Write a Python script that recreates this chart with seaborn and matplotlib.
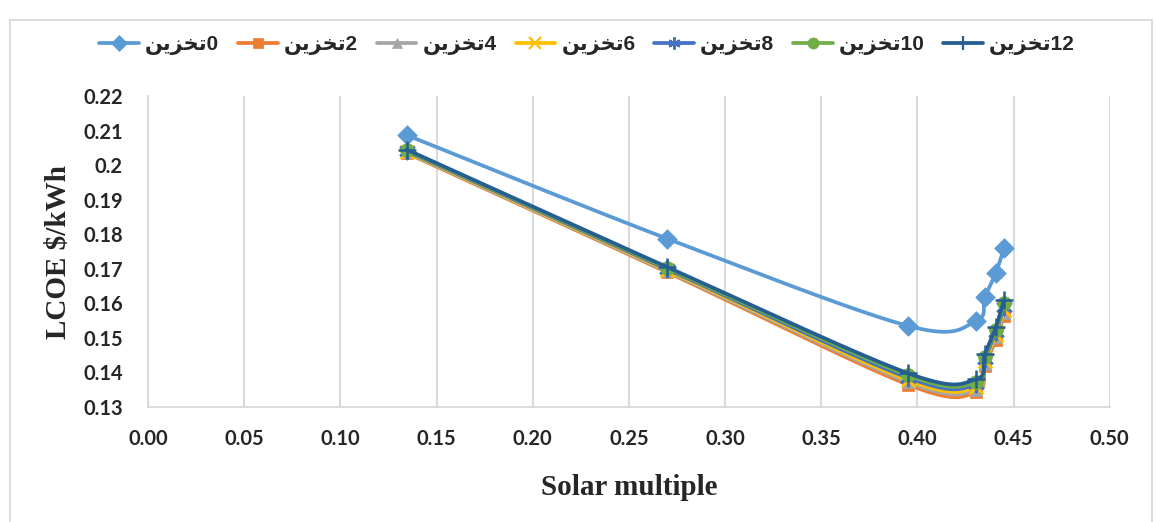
import numpy as np
import pandas as pd
import seaborn as sns
import matplotlib.pyplot as plt
from matplotlib.lines import Line2D
from matplotlib.patches import Rectangle

# solar multiple values (same for every storage series)
solar_multiple = [0.1345, 0.270, 0.395, 0.4304, 0.435, 0.4408, 0.445]

# LCOE ($/kWh) per storage hours
lcoe_0 = [0.2087, 0.1787, 0.1535, 0.1548, 0.1618, 0.1688, 0.1760]
lcoe_2 = [0.2035, 0.1690, 0.1365, 0.1342, 0.1418, 0.1495, 0.1562]
lcoe_4 = [0.2037, 0.1693, 0.1372, 0.1350, 0.1425, 0.1502, 0.1571]
lcoe_6 = [0.2039, 0.1696, 0.1378, 0.1358, 0.1432, 0.1509, 0.1580]
lcoe_8 = [0.2041, 0.1699, 0.1385, 0.1366, 0.1439, 0.1517, 0.1590]
lcoe_10 = [0.2043, 0.1702, 0.1392, 0.1373, 0.1446, 0.1524, 0.1600]
lcoe_12 = [0.2045, 0.1705, 0.1398, 0.1380, 0.1452, 0.1531, 0.1610]

storage_hours = ['0', '2', '4', '6', '8', '10', '12']
# "تخزين" written in shaped presentation forms, visual order
word = '\uFEE6\uFEF3\uFEB0\uFEA8\uFE97'

x_ticks = [0.00, 0.05, 0.10, 0.15, 0.20, 0.25, 0.30, 0.35, 0.40, 0.45, 0.50]
x_tick_labels = ['0.00', '0.05', '0.10', '0.15', '0.20', '0.25', '0.30', '0.35', '0.40', '0.45', '0.50']
y_ticks = [0.13, 0.14, 0.15, 0.16, 0.17, 0.18, 0.19, 0.20, 0.21, 0.22]
y_tick_labels = ['0.13', '0.14', '0.15', '0.16', '0.17', '0.18', '0.19', '0.2', '0.21', '0.22']

colors = ['#5B9BD5', '#ED7D31', '#A5A5A5', '#FFC000', '#4472C4', '#70AD47', '#255E91']
markers = ['D', 's', '^', 'x', (6, 2, 0), 'o', '+']
msizes = [10, 9, 9, 10, 11, 10, 13]


def smooth(xs, ys, n=40):
    # excel style smoothed line: catmull-rom bezier segments
    p = np.column_stack([xs, ys])
    out = []
    for i in range(len(p) - 1):
        p0 = p[i - 1] if i > 0 else p[i]
        p1, p2 = p[i], p[i + 1]
        p3 = p[i + 2] if i + 2 < len(p) else p[i + 1]
        c1 = p1 + (p2 - p0) / 6
        c2 = p2 - (p3 - p1) / 6
        t = np.linspace(0, 1, n)[:, None]
        seg = ((1 - t) ** 3) * p1 + 3 * ((1 - t) ** 2) * t * c1 + 3 * (1 - t) * t ** 2 * c2 + t ** 3 * p2
        out.append(seg if i == 0 else seg[1:])
    s = np.vstack(out)
    return s[:, 0], s[:, 1]


series = [lcoe_0, lcoe_2, lcoe_4, lcoe_6, lcoe_8, lcoe_10, lcoe_12]
thin = ('x', '+', (6, 2, 0))

sns.set_style('white')
plt.rcParams['font.family'] = ['Liberation Sans', 'DejaVu Sans']

fig = plt.figure(figsize=(11.56, 5.22), dpi=100)
ax = fig.add_axes([0.128, 0.2203, 0.832, 0.5957])

handles = []
for k, (vals, c, m, ms) in enumerate(zip(series, colors, markers, msizes)):
    sx, sy = smooth(solar_multiple, vals)
    sns.lineplot(x=sx, y=sy, color=c, linewidth=2.7, sort=False, estimator=None, ax=ax, zorder=3 + 2 * k)
    pts = pd.DataFrame({'x': solar_multiple, 'y': vals})
    mk = dict(marker=m, s=ms ** 2, color=c, zorder=4 + 2 * k, ax=ax)
    if m in thin:
        sns.scatterplot(data=pts, x='x', y='y', linewidth=1.8, **mk)
    else:
        sns.scatterplot(data=pts, x='x', y='y', edgecolor=c, linewidth=0.5, **mk)
    handles.append(Line2D([], [], color=c, lw=2.7, marker=m, markersize=ms * 0.8,
                          markeredgewidth=1.6 if m in thin else 0.5,
                          label=word + storage_hours[k]))

ax.set_xlim(0, 0.5)
ax.set_ylim(0.13, 0.22)
ax.set_xticks(x_ticks)
ax.set_xticklabels(x_tick_labels, fontsize=14.5, fontweight='bold', family='Lato')
ax.set_yticks(y_ticks)
ax.set_yticklabels(y_tick_labels, fontsize=14.5, fontweight='bold', family='Lato')
ax.tick_params(axis='both', length=0)
ax.tick_params(axis='y', pad=18)
ax.tick_params(axis='x', pad=16)
ax.xaxis.grid(True, color='#D9D9D9', linewidth=1.5)
ax.yaxis.grid(False)
for side in ['top', 'right']:
    ax.spines[side].set_visible(False)
for side in ['left', 'bottom']:
    ax.spines[side].set_color('#D9D9D9')
    ax.spines[side].set_linewidth(1.3)

ax.set_xlabel('Solar multiple', fontsize=21, fontweight='bold', family='Liberation Serif', labelpad=18)
ax.set_ylabel('LCOE \\$/kWh', fontsize=21, fontweight='bold', family='Liberation Serif', labelpad=8)

fig.legend(handles=handles, loc='center', bbox_to_anchor=(0.508, 0.914), ncol=7, frameon=False,
           handlelength=1.9, columnspacing=0.9, handletextpad=0.3,
           prop={'weight': 'bold', 'size': 15, 'family': ['Liberation Sans', 'DejaVu Sans']})

fig.add_artist(Rectangle((10 / 1156, -0.01), 1142 / 1156, 1 - 20 / 522 + 0.01, transform=fig.transFigure,
                         fill=False, edgecolor='#D9D9D9', linewidth=1.3))

fig.savefig('out.png', dpi=100)
